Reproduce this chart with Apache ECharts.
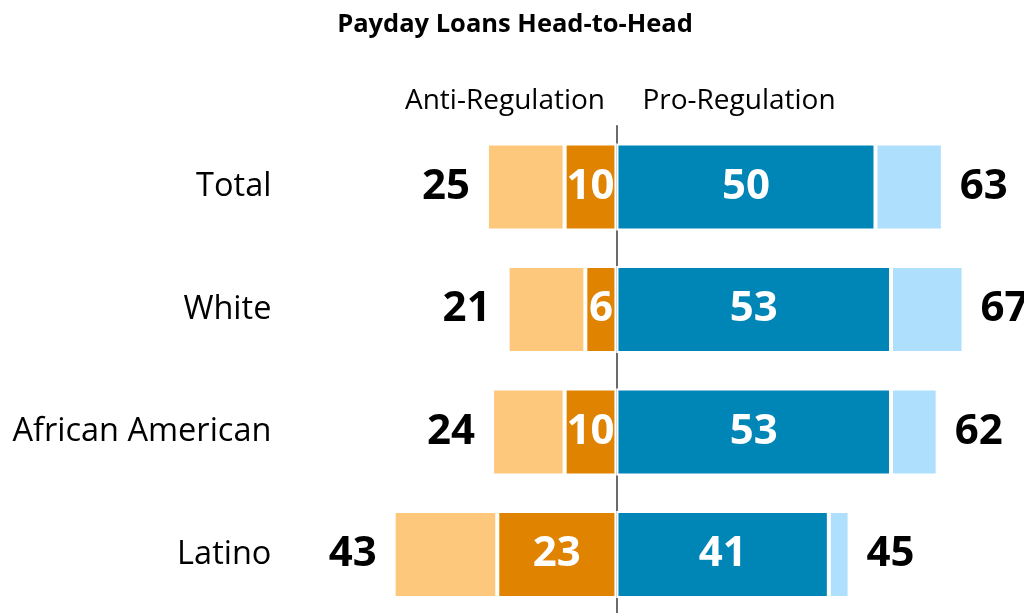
<!DOCTYPE html>
<html>
<head>
<meta charset="utf-8">
<script src="https://cdn.jsdelivr.net/npm/echarts@6/dist/echarts.min.js"></script>
<style>
  html, body { margin: 0; padding: 0; background: #fff; }
  #chart { width: 1024px; height: 613px; }
</style>
</head>
<body>
<div id="chart"></div>
<script>
// Survey groups, top to bottom
const groups = ['Total', 'White', 'African American', 'Latino'];
// Anti-regulation: strongly opposed and overall total
const antiStrong = [10, 6, 10, 23];
const antiTotal = [25, 21, 24, 43];
// Pro-regulation: strongly in favour and overall total
const proStrong = [50, 53, 53, 41];
const proTotal = [63, 67, 62, 45];

const antiSomewhat = antiTotal.map((t, i) => t - antiStrong[i]);
const proSomewhat = proTotal.map((t, i) => t - proStrong[i]);

const FONT = '"Open Sans", "Noto Sans", sans-serif';
const C = {
  antiLight: '#FDC87C',
  antiDark: '#DF8300',
  proDark: '#0086B6',
  proLight: '#AEDFFC'
};

const inBarLabel = {
  show: true,
  position: 'inside',
  color: '#fff',
  fontFamily: FONT,
  fontWeight: 'bold',
  fontSize: 42,
  formatter: p => Math.abs(p.value)
};
const totalLabel = (side, totals) => ({
  show: true,
  position: side,
  distance: 17,
  color: '#000',
  fontFamily: FONT,
  fontWeight: 'bold',
  fontSize: 42,
  formatter: p => totals[p.dataIndex]
});
const barStyle = color => ({ color: color, borderColor: '#fff', borderWidth: 2 });

const chart = echarts.init(document.getElementById('chart'), null, { renderer: 'canvas' });
chart.setOption({
  animation: false,
  backgroundColor: '#fff',
  title: [
    {
      text: 'Payday Loans Head-to-Head',
      left: 510, top: 7, textAlign: 'center',
      textStyle: { fontFamily: FONT, fontWeight: 'bold', fontSize: 25.5, color: '#000' }
    },
    {
      text: 'Anti-Regulation',
      left: 500, top: 82, textAlign: 'center',
      textStyle: { fontFamily: FONT, fontWeight: 'normal', fontSize: 28, color: '#000' }
    },
    {
      text: 'Pro-Regulation',
      left: 734, top: 82, textAlign: 'center',
      textStyle: { fontFamily: FONT, fontWeight: 'normal', fontSize: 28, color: '#000' }
    }
  ],
  grid: {
    left: 357.4, right: 47.5, top: 125.75, height: 490,
    containLabel: false,
    outerBoundsMode: 'none'
  },
  xAxis: {
    type: 'value', min: -50, max: 69.5,
    show: false
  },
  yAxis: {
    type: 'category',
    data: groups,
    inverse: true,
    axisLine: { show: true, onZero: true, lineStyle: { color: '#3a3a3a', width: 1.5 } },
    axisTick: { show: false },
    axisLabel: {
      margin: 86,
      color: '#000',
      fontFamily: FONT,
      fontSize: 32.5
    }
  },
  series: [
    {
      name: 'Anti strong', type: 'bar', stack: 'all', barWidth: 87,
      data: antiStrong.map(v => -v),
      itemStyle: barStyle(C.antiDark),
      label: inBarLabel
    },
    {
      name: 'Anti somewhat', type: 'bar', stack: 'all',
      data: antiSomewhat.map(v => -v),
      itemStyle: barStyle(C.antiLight),
      label: totalLabel('left', antiTotal)
    },
    {
      name: 'Pro strong', type: 'bar', stack: 'all',
      data: proStrong,
      itemStyle: barStyle(C.proDark),
      label: inBarLabel
    },
    {
      name: 'Pro somewhat', type: 'bar', stack: 'all',
      data: proSomewhat,
      itemStyle: barStyle(C.proLight),
      label: totalLabel('right', proTotal)
    }
  ]
});
</script>
</body>
</html>
